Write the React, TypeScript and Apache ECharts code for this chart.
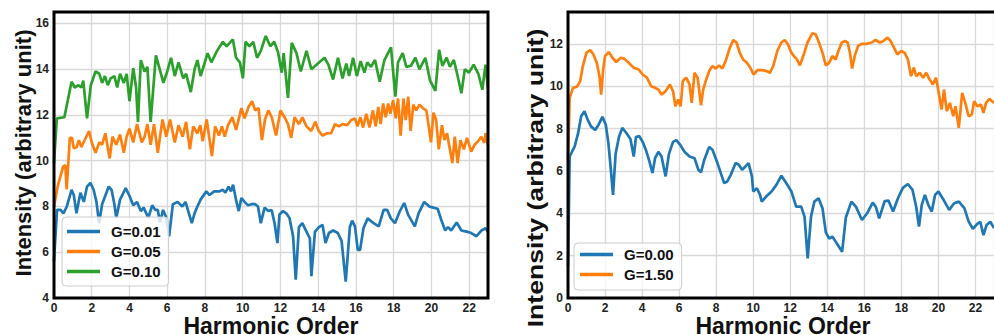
import React, { useEffect, useRef } from "react";
import * as echarts from "echarts";

// ---------- Left panel data ----------
const g001X = [0, 0.16, 0.35, 0.5, 0.68, 0.93, 1.05, 1.19, 1.4, 1.58, 1.75, 1.93, 2.1, 2.25, 2.39, 2.55, 2.9, 3.05, 3.2, 3.3, 3.5, 3.8, 3.98, 4.2, 4.4, 4.6, 4.75, 5.0, 5.2, 5.37, 5.5, 5.62, 5.78, 5.93, 6.0, 6.1, 6.3, 6.55, 6.8, 6.97, 7.15, 7.3, 7.45, 7.6, 7.77, 8.07, 8.24, 8.49, 8.74, 8.95, 9.08, 9.25, 9.38, 9.49, 9.67, 9.79, 9.93, 10.1, 10.28, 10.46, 10.66, 10.81, 10.96, 11.16, 11.36, 11.53, 11.69, 11.84, 11.95, 12.13, 12.31, 12.48, 12.67, 12.81, 12.98, 13.16, 13.38, 13.56, 13.64, 13.83, 14.04, 14.23, 14.39, 14.57, 14.79, 15.04, 15.24, 15.46, 15.68, 15.8, 15.95, 16.1, 16.22, 16.4, 16.62, 16.94, 17.21, 17.47, 17.66, 17.85, 18.07, 18.33, 18.56, 18.77, 19.12, 19.32, 19.62, 19.89, 20.1, 20.33, 20.53, 20.73, 20.88, 21.05, 21.34, 21.59, 21.86, 22.09, 22.39, 22.65, 22.87, 23.0];
const g001Y = [5.6, 7.85, 7.85, 7.7, 8.0, 8.73, 8.5, 7.7, 8.6, 8.2, 8.87, 9.03, 8.73, 8.2, 7.27, 8.1, 8.87, 8.73, 8.1, 7.5, 8.3, 8.8, 8.5, 8.05, 8.2, 7.8, 7.95, 7.5, 8.05, 7.85, 7.85, 7.3, 7.85, 7.55, 7.25, 6.7, 8.1, 8.2, 8.0, 8.2, 7.7, 7.27, 7.7, 8.0, 8.3, 8.66, 8.5, 8.66, 8.66, 8.73, 8.6, 8.87, 8.66, 8.95, 8.2, 7.8, 8.37, 8.2, 8.05, 8.1, 8.1, 8.0, 7.27, 7.95, 7.8, 7.85, 7.27, 6.4, 7.65, 7.8, 7.7, 7.5, 6.7, 4.8, 7.1, 7.27, 6.9, 6.6, 4.95, 6.9, 7.1, 7.2, 6.4, 6.84, 6.95, 6.84, 6.5, 4.72, 7.1, 7.38, 7.13, 6.1, 6.1, 7.05, 7.48, 7.27, 7.13, 7.85, 7.85, 7.48, 7.27, 7.8, 8.15, 7.63, 7.13, 7.7, 8.2, 8.0, 7.95, 7.9, 7.4, 6.95, 7.1, 6.95, 7.3, 6.95, 6.9, 6.85, 6.7, 6.95, 7.05, 6.9];

const g005X = [0, 0.2, 0.49, 0.6, 0.67, 0.84, 0.95, 1.05, 1.2, 1.32, 1.45, 1.86, 2.0, 2.2, 2.4, 2.55, 2.72, 2.95, 3.1, 3.3, 3.5, 3.7, 3.85, 4.0, 4.2, 4.4, 4.65, 4.8, 4.95, 5.12, 5.3, 5.5, 5.75, 5.95, 6.15, 6.4, 6.6, 6.82, 7.0, 7.2, 7.38, 7.6, 7.75, 7.88, 8.09, 8.37, 8.54, 8.74, 8.9, 9.05, 9.22, 9.45, 9.65, 9.93, 10.1, 10.31, 10.5, 10.66, 10.84, 11.02, 11.18, 11.36, 11.54, 11.77, 12.0, 12.22, 12.4, 12.57, 12.75, 12.98, 13.16, 13.38, 13.63, 13.85, 14.03, 14.23, 14.49, 14.69, 14.89, 15.09, 15.29, 15.54, 15.75, 15.95, 16.08, 16.24, 16.38, 16.55, 16.72, 16.9, 17.05, 17.18, 17.31, 17.44, 17.58, 17.71, 17.83, 17.97, 18.11, 18.23, 18.37, 18.52, 18.64, 18.77, 18.9, 19.04, 19.19, 19.37, 19.54, 19.73, 19.85, 19.98, 20.11, 20.25, 20.39, 20.56, 20.69, 20.83, 20.98, 21.11, 21.24, 21.39, 21.54, 21.72, 21.89, 22.11, 22.29, 22.47, 22.65, 22.8, 22.88, 23.0];
const g005Y = [8.0, 8.9, 9.75, 9.8, 8.75, 11.0, 11.0, 10.55, 10.6, 10.9, 10.6, 11.3, 10.8, 10.35, 10.8, 10.7, 11.2, 10.1, 11.05, 10.7, 11.15, 10.35, 11.05, 11.4, 10.8, 11.6, 10.8, 11.05, 11.6, 10.7, 11.6, 10.35, 11.8, 11.05, 11.8, 10.8, 11.55, 11.05, 11.7, 10.5, 11.5, 11.2, 11.55, 10.85, 11.8, 10.2, 11.5, 11.1, 11.5, 11.05, 11.55, 11.9, 11.35, 12.3, 11.85, 12.35, 12.6, 12.2, 12.3, 10.9, 11.8, 12.2, 11.9, 11.1, 12.2, 11.9, 11.6, 11.0, 11.9, 11.6, 11.9, 11.5, 11.3, 11.7, 11.3, 11.1, 11.2, 11.2, 11.6, 11.5, 11.6, 11.55, 11.78, 11.85, 11.5, 11.9, 11.45, 12.05, 11.45, 12.2, 11.5, 12.35, 11.6, 12.5, 11.9, 12.5, 12.05, 12.65, 11.85, 12.72, 11.1, 12.72, 11.78, 12.8, 11.3, 12.45, 12.2, 12.45, 12.3, 12.2, 11.55, 10.8, 12.1, 11.78, 10.5, 11.55, 10.9, 11.2, 10.5, 9.9, 11.05, 9.9, 10.9, 10.5, 11.0, 10.4, 10.7, 10.85, 11.05, 10.78, 11.2, 10.65];

const g010X = [0, 0.15, 0.55, 0.93, 1.1, 1.3, 1.45, 1.55, 1.75, 1.95, 2.2, 2.4, 2.55, 2.7, 2.85, 3.0, 3.2, 3.35, 3.5, 3.7, 3.85, 4.0, 4.2, 4.35, 4.45, 4.6, 4.8, 4.95, 5.12, 5.4, 5.6, 5.8, 6.0, 6.2, 6.4, 6.6, 6.85, 7.0, 7.25, 7.45, 7.6, 7.77, 8.14, 8.34, 8.64, 8.95, 9.15, 9.48, 9.65, 9.85, 10.01, 10.15, 10.36, 10.56, 10.76, 10.96, 11.22, 11.46, 11.67, 11.87, 12.07, 12.17, 12.4, 12.6, 12.85, 13.08, 13.38, 13.64, 14.06, 14.34, 14.54, 14.79, 15.05, 15.29, 15.49, 15.64, 15.85, 16.05, 16.25, 16.45, 16.6, 16.8, 17.01, 17.26, 17.51, 17.86, 18.09, 18.23, 18.48, 18.67, 18.92, 19.15, 19.37, 19.68, 19.93, 20.21, 20.41, 20.58, 20.81, 20.98, 21.19, 21.39, 21.59, 21.77, 21.99, 22.24, 22.49, 22.7, 22.87, 23.0];
const g010Y = [9.9, 11.85, 11.9, 13.45, 13.2, 13.3, 13.2, 13.5, 11.85, 13.3, 13.9, 13.8, 13.4, 13.7, 13.3, 13.6, 13.7, 13.2, 13.8, 13.4, 13.8, 12.6, 14.05, 13.2, 11.7, 14.4, 13.9, 14.1, 11.7, 14.6, 14.0, 13.4, 13.9, 14.5, 13.7, 14.3, 13.6, 13.8, 13.0, 14.0, 14.4, 13.7, 14.7, 14.3, 14.8, 15.2, 15.0, 15.3, 14.5, 14.3, 13.6, 15.2, 15.0, 15.2, 14.5, 14.8, 15.45, 15.0, 15.2, 14.75, 13.85, 14.7, 12.75, 15.15, 14.7, 13.9, 14.8, 14.0, 14.3, 14.5, 14.2, 13.55, 14.5, 13.6, 14.25, 13.7, 14.5, 13.7, 14.35, 13.85, 14.3, 14.1, 14.4, 13.45, 14.4, 14.95, 12.8, 14.3, 14.7, 14.1, 14.15, 14.5, 14.0, 14.5, 13.5, 13.05, 14.85, 14.15, 14.5, 14.1, 14.4, 13.7, 12.95, 14.0, 13.85, 14.2, 13.8, 13.1, 14.2, 13.15];

// ---------- Right panel data ----------
const g000X = [0, 0.09, 0.36, 0.55, 0.71, 0.89, 1.06, 1.24, 1.47, 1.65, 1.86, 2.04, 2.18, 2.3, 2.43, 2.57, 2.75, 2.93, 3.14, 3.37, 3.55, 3.67, 3.85, 4.03, 4.2, 4.38, 4.56, 4.7, 4.88, 5.05, 5.27, 5.45, 5.67, 5.85, 6.08, 6.29, 6.56, 6.83, 7.04, 7.18, 7.36, 7.62, 7.8, 8.07, 8.43, 8.6, 8.78, 9.05, 9.22, 9.4, 9.58, 9.75, 9.93, 10.0, 10.2, 10.37, 10.46, 10.7, 10.99, 11.25, 11.52, 11.79, 12.06, 12.32, 12.59, 12.77, 12.94, 13.12, 13.3, 13.53, 13.74, 13.92, 14.1, 14.27, 14.5, 14.8, 15.0, 15.3, 15.55, 15.87, 16.15, 16.45, 16.62, 16.8, 17.1, 17.3, 17.55, 17.82, 18.08, 18.35, 18.6, 18.8, 18.95, 19.1, 19.27, 19.45, 19.64, 19.82, 20.0, 20.3, 20.58, 20.85, 21.1, 21.4, 21.63, 21.86, 22.1, 22.26, 22.43, 22.6, 22.8, 23.0];
const g000Y = [1.5, 6.68, 7.16, 7.79, 8.58, 8.82, 8.42, 8.1, 7.93, 8.18, 8.55, 8.18, 7.32, 6.2, 4.87, 6.8, 7.6, 8.03, 7.8, 7.5, 6.68, 7.6, 7.64, 7.37, 7.0, 6.5, 5.9, 6.6, 6.9, 6.68, 5.74, 6.8, 7.37, 7.45, 7.2, 6.9, 6.68, 6.6, 6.05, 5.93, 6.53, 7.13, 7.0, 6.37, 5.42, 5.5, 5.8, 6.37, 6.29, 6.05, 6.21, 6.37, 5.74, 5.03, 5.18, 4.87, 4.55, 4.79, 5.03, 5.34, 5.77, 5.42, 5.03, 4.31, 4.31, 3.84, 1.87, 3.84, 4.55, 4.71, 4.24, 3.1, 2.8, 2.9, 2.6, 2.18, 3.8, 4.55, 4.3, 3.68, 4.0, 4.5, 4.3, 3.76, 4.58, 4.6, 4.08, 4.72, 5.2, 5.38, 5.1, 4.31, 3.37, 4.4, 4.87, 4.4, 4.08, 4.87, 5.03, 4.6, 4.16, 4.47, 4.55, 4.24, 3.62, 3.27, 3.5, 3.6, 2.97, 3.45, 3.6, 3.3];

const g150X = [0, 0.09, 0.27, 0.48, 0.66, 0.8, 1.0, 1.2, 1.37, 1.55, 1.7, 1.79, 1.9, 2.0, 2.2, 2.4, 2.6, 2.85, 3.02, 3.28, 3.55, 3.81, 4.03, 4.26, 4.49, 4.7, 4.88, 5.05, 5.27, 5.5, 5.67, 5.8, 5.95, 6.08, 6.2, 6.38, 6.56, 6.68, 6.83, 7.0, 7.18, 7.3, 7.45, 7.62, 7.8, 7.98, 8.16, 8.33, 8.51, 8.74, 8.92, 9.1, 9.27, 9.45, 9.66, 9.84, 10.02, 10.23, 10.46, 10.73, 10.9, 11.08, 11.3, 11.52, 11.7, 11.88, 12.06, 12.2, 12.36, 12.52, 12.7, 12.93, 13.2, 13.37, 13.55, 13.74, 13.92, 14.1, 14.27, 14.45, 14.6, 14.78, 14.98, 15.1, 15.22, 15.34, 15.48, 15.66, 15.87, 16.13, 16.4, 16.6, 16.84, 17.03, 17.25, 17.42, 17.6, 17.78, 17.99, 18.17, 18.35, 18.52, 18.67, 18.8, 18.99, 19.17, 19.34, 19.52, 19.7, 19.87, 20.0, 20.17, 20.3, 20.45, 20.62, 20.8, 20.92, 21.1, 21.28, 21.45, 21.63, 21.8, 21.93, 22.1, 22.3, 22.43, 22.57, 22.75, 23.0];
const g150Y = [6.5, 9.45, 9.92, 9.97, 10.24, 10.95, 11.58, 11.7, 11.5, 11.1, 10.47, 9.6, 10.8, 11.42, 11.61, 11.34, 11.14, 11.34, 11.3, 11.1, 10.87, 10.79, 10.55, 10.4, 10.0, 9.92, 9.84, 9.6, 9.76, 10.08, 9.76, 9.05, 9.37, 9.05, 10.24, 10.4, 10.08, 9.21, 10.63, 10.4, 9.1, 9.84, 10.28, 10.71, 10.95, 10.83, 10.98, 10.83, 11.18, 11.82, 12.18, 12.06, 11.58, 11.26, 11.1, 10.87, 10.55, 10.76, 10.76, 10.71, 10.63, 10.95, 11.66, 12.06, 12.18, 11.97, 11.58, 11.42, 11.26, 10.98, 11.42, 12.06, 12.5, 12.45, 12.06, 11.58, 10.98, 11.1, 11.42, 11.26, 11.66, 12.06, 12.13, 12.06, 11.58, 10.83, 11.42, 11.9, 12.0, 12.0, 12.06, 12.18, 12.06, 12.13, 12.29, 12.13, 11.82, 11.5, 11.66, 11.58, 11.26, 10.47, 10.87, 10.47, 10.63, 10.4, 10.63, 10.32, 10.08, 10.4, 9.76, 8.9, 9.84, 8.82, 9.21, 8.58, 9.05, 8.03, 9.68, 9.21, 8.58, 8.66, 9.29, 9.05, 9.13, 8.74, 9.21, 9.4, 9.2];

const xTicksMax = 23;
const leftNames = ["G=0.01", "G=0.05", "G=0.10"];
const rightNames = ["G=0.00", "G=1.50"];

const BLUE = "#1f77b4";
const ORANGE = "#ff7f0e";
const GREEN = "#2ca02c";
const FONT = "'Liberation Sans', Arial, sans-serif";

function zip(xs: number[], ys: number[]) {
  return xs.map((x, i) => [x, ys[i]]);
}

export default function App() {
  const ref = useRef<HTMLDivElement>(null);
  useEffect(() => {
    if (!ref.current) return;
    const chart = echarts.init(ref.current, null, { renderer: "svg" });
    const axisLabel = {
      fontFamily: FONT,
      fontWeight: "bold" as const,
      fontSize: 12,
      color: "#222",
    };
    const splitLine = { show: true, lineStyle: { color: "#d9d9d9", width: 1.3 } };
    const xAxisBase = {
      type: "value" as const,
      min: 0,
      max: xTicksMax,
      interval: 2,
      axisLine: { show: false },
      axisTick: { show: false },
      splitLine,
      axisLabel: { ...axisLabel, margin: 4, showMaxLabel: false },
    };
    const lineSeries = (name: string, data: number[][], color: string, idx: number) => ({
      type: "line" as const,
      name,
      data,
      xAxisIndex: idx,
      yAxisIndex: idx,
      symbol: "none",
      showSymbol: false,
      lineStyle: { color, width: 2.7 },
      itemStyle: { color },
      color,
      z: 3,
    });
    const legendText = {
      fontFamily: FONT,
      fontWeight: "bold" as const,
      fontSize: 15,
      color: "#111",
      padding: [0, 0, 0, 6],
    };
    const legendBase = {
      orient: "vertical" as const,
      icon: "rect",
      itemWidth: 33,
      itemHeight: 3.5,
      backgroundColor: "rgba(255,255,255,0.8)",
      borderColor: "#cccccc",
      borderWidth: 1,
      borderRadius: 4,
      textStyle: legendText,
    };
    const titleStyle = {
      fontFamily: FONT,
      fontWeight: "bold" as const,
      fontSize: 22,
      fill: "#111",
      textAlign: "center" as const,
      verticalAlign: "middle" as const,
    };
    chart.setOption({
      animation: false,
      backgroundColor: "#fff",
      grid: [
        { left: 54, top: 12, width: 434, height: 286 },
        { left: 568, top: 12, width: 432, height: 286 },
      ],
      xAxis: [
        { ...xAxisBase, gridIndex: 0 },
        { ...xAxisBase, gridIndex: 1 },
      ],
      yAxis: [
        {
          type: "value",
          gridIndex: 0,
          min: 4,
          max: 16.5,
          interval: 2,
          axisLine: { show: false },
          axisTick: { show: false },
          splitLine,
          axisLabel: { ...axisLabel, margin: 5, showMaxLabel: false },
        },
        {
          type: "value",
          gridIndex: 1,
          min: 0,
          max: 13.5,
          interval: 2,
          axisLine: { show: false },
          axisTick: { show: false },
          splitLine,
          axisLabel: { ...axisLabel, margin: 5, showMaxLabel: false },
        },
      ],
      legend: [
        {
          ...legendBase,
          data: leftNames,
          left: 62,
          top: 217,
          itemGap: 5,
          padding: [7, 8, 7, 5],
        },
        {
          ...legendBase,
          data: rightNames,
          left: 574,
          top: 243,
          itemGap: 5,
          padding: [4, 8, 8, 6],
        },
      ],
      series: [
        lineSeries(leftNames[0], zip(g001X, g001Y), BLUE, 0),
        lineSeries(leftNames[1], zip(g005X, g005Y), ORANGE, 0),
        lineSeries(leftNames[2], zip(g010X, g010Y), GREEN, 0),
        lineSeries(rightNames[0], zip(g000X, g000Y), BLUE, 1),
        lineSeries(rightNames[1], zip(g150X, g150Y), ORANGE, 1),
      ],
      graphic: [
        {
          type: "rect",
          shape: { x: 54, y: 12, width: 434, height: 286 },
          style: { fill: "none", stroke: "#000", lineWidth: 3 },
          z: 50,
          silent: true,
        },
        {
          type: "rect",
          shape: { x: 568, y: 12, width: 432, height: 286 },
          style: { fill: "none", stroke: "#000", lineWidth: 3 },
          z: 50,
          silent: true,
        },
        {
          type: "text",
          x: 23.5,
          y: 153,
          rotation: Math.PI / 2,
          style: { ...titleStyle, text: "Intensity (arbitrary unit)" },
          z: 50,
        },
        {
          type: "text",
          x: 535,
          y: 178,
          rotation: Math.PI / 2,
          scaleX: 1.21,
          style: { ...titleStyle, text: "Intensity (arbitrary unit)" },
          z: 50,
        },
        {
          type: "text",
          x: 271,
          y: 325.5,
          style: { ...titleStyle, fontSize: 23, lineHeight: 17, text: "Harmonic Order" },
          z: 50,
        },
        {
          type: "text",
          x: 783,
          y: 325.5,
          style: { ...titleStyle, fontSize: 23, lineHeight: 17, text: "Harmonic Order" },
          z: 50,
        },
      ],
    });
    return () => chart.dispose();
  }, []);
  return (
    <div
      ref={ref}
      style={{ position: "absolute", left: 0, top: 0, width: 994, height: 335 }}
    />
  );
}
